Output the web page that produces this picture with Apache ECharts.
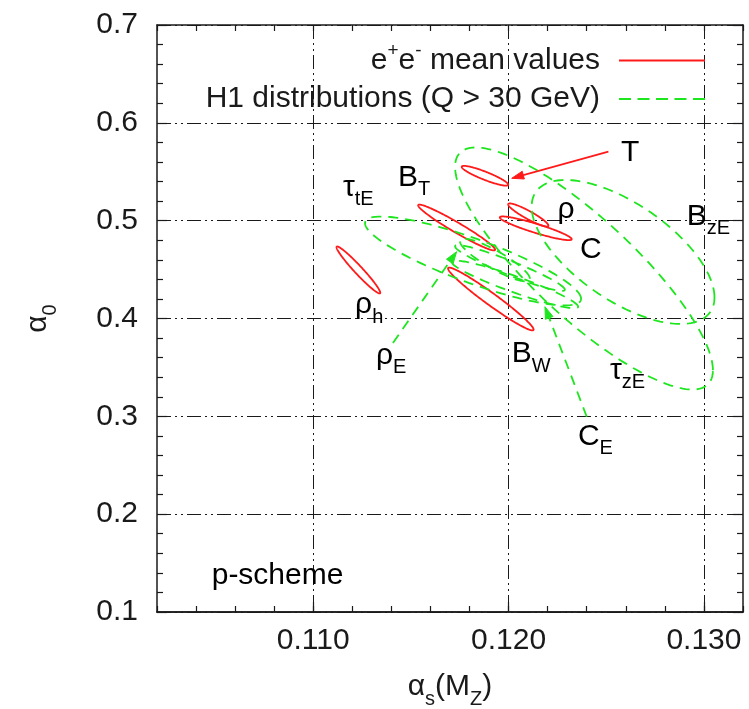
<!DOCTYPE html>
<html>
<head>
<meta charset="utf-8">
<script src="https://cdn.jsdelivr.net/npm/echarts@6/dist/echarts.min.js"></script>
<style>
  html, body { margin: 0; padding: 0; background: #fff; }
  #chart { width: 749px; height: 709px; }
</style>
</head>
<body>
<div id="chart"></div>
<script>
// axes
var X_MIN = 0.102, X_MAX = 0.132;
var Y_MIN = 0.1, Y_MAX = 0.7;
var xMajor = [0.11, 0.12, 0.13];

// e+e- mean values (red): centre, half extents, correlation
// order: T, B_T, B_W, rho, C, rho_h
var eeCx = [0.11879, 0.11734, 0.11909, 0.12101, 0.12139, 0.11231];
var eeCy = [0.5459, 0.4930, 0.4199, 0.5058, 0.4922, 0.4496];
var eeSx = [0.00119, 0.00197, 0.00219, 0.00103, 0.00184, 0.00112];
var eeSy = [0.0101, 0.0234, 0.0321, 0.0118, 0.0121, 0.0240];
var eeRho = [-0.90, -0.968, -0.972, -0.919, -0.917, -0.969];

// H1 distributions (green dashed)
// order: tau_tE, B_zE, tau_zE, rho_E, C_E, B_tE
var h1Cx = [0.11818, 0.12586, 0.12386, 0.12007, 0.12033, 0.1193];
var h1Cy = [0.4588, 0.4680, 0.4511, 0.4516, 0.4348, 0.4598];
var h1Sx = [0.00553, 0.00468, 0.0066, 0.00281, 0.00323, 0.00179];
var h1Sy = [0.0454, 0.0736, 0.1237, 0.0234, 0.0243, 0.0218];
var h1Rho = [-0.85, -0.63, -0.84, -0.944, -0.934, -0.876];

// arrows: T (red), rho_E, C_E (green)
var arrowX0 = [0.12511, 0.11408, 0.12400];
var arrowY0 = [0.5705, 0.3750, 0.2996];
var arrowX1 = [0.12016, 0.11734, 0.12186];
var arrowY1 = [0.5433, 0.4683, 0.4121];
var arrowIsH1 = [false, true, true];

// text labels
var labelMain = ['T', 'B', 'τ', 'ρ', 'ρ', 'C', 'B', 'B', 'τ', 'C', 'ρ', 'p-scheme'];
var labelSub  = ['', 'T', 'tE', 'h', '', '', 'zE', 'W', 'zE', 'E', 'E', ''];
var labelX = [0.12575, 0.11434, 0.11152, 0.11214, 0.12250, 0.12366, 0.12912, 0.12016, 0.12519, 0.12355, 0.11321, 0.1048];
var labelY = [0.5692, 0.5441, 0.5339, 0.4138, 0.5110, 0.4700, 0.5043, 0.3637, 0.3469, 0.2794, 0.3617, 0.1373];

var EE_NAME = 'e+e- mean values';
var H1_NAME = 'H1 distributions (Q > 30 GeV)';
var RED = '#ff1a1a';
var GREEN = '#1ee61e';
var INK = '#1a1a1a';
var FONT = 'Liberation Sans';
var dashDot = [14, 4, 2, 4, 2, 4];
var greenDash = [10, 7];

var rich = {
  m: { fontSize: 30, fontFamily: FONT, color: INK, lineHeight: 30 },
  s: { fontSize: 20, fontFamily: FONT, color: INK, lineHeight: 30, padding: [24, 0, 0, 0] }
};

function zipRows() {
  var cols = arguments, rows = [];
  for (var i = 0; i < cols[0].length; i++) {
    var r = [];
    for (var j = 0; j < cols.length; j++) r.push(cols[j][i]);
    rows.push(r);
  }
  return rows;
}

function ellipseRenderer(color, dash) {
  return function (params, api) {
    var cx = api.value(0), cy = api.value(1), sx = api.value(2), sy = api.value(3), r = api.value(4);
    var q = Math.sqrt(1 - r * r);
    var pts = [];
    for (var k = 0; k < 180; k++) {
      var t = k / 180 * 2 * Math.PI;
      pts.push(api.coord([cx + sx * Math.cos(t), cy + sy * (r * Math.cos(t) + q * Math.sin(t))]));
    }
    return {
      type: 'polygon',
      shape: { points: pts },
      style: { fill: null, stroke: color, lineWidth: 1.8, lineDash: dash }
    };
  };
}

function renderArrow(params, api) {
  var h1 = arrowIsH1[params.dataIndex];
  var color = h1 ? GREEN : RED;
  var p0 = api.coord([api.value(0), api.value(1)]);
  var p1 = api.coord([api.value(2), api.value(3)]);
  var dx = p1[0] - p0[0], dy = p1[1] - p0[1];
  var len = Math.sqrt(dx * dx + dy * dy);
  var ux = dx / len, uy = dy / len;
  var hl = 12, hw = 4;
  var bx = p1[0] - ux * hl, by = p1[1] - uy * hl;
  return {
    type: 'group',
    children: [
      { type: 'line', shape: { x1: p0[0], y1: p0[1], x2: bx, y2: by },
        style: { stroke: color, lineWidth: 1.8, lineDash: h1 ? greenDash : null } },
      { type: 'polygon', shape: { points: [p1, [bx - uy * hw, by + ux * hw], [bx + uy * hw, by - ux * hw]] },
        style: { fill: color, stroke: color, lineWidth: 1 } }
    ]
  };
}

function renderLabel(params, api) {
  var i = params.dataIndex;
  var p = api.coord([api.value(0), api.value(1)]);
  var txt = '{m|' + labelMain[i] + '}' + (labelSub[i] ? '{s|' + labelSub[i] + '}' : '');
  return {
    type: 'text',
    x: p[0], y: p[1],
    style: { text: txt, rich: rich, align: 'left', verticalAlign: 'middle' }
  };
}

var minorX = {
  type: 'value', min: X_MIN, max: X_MAX, interval: 0.002,
  axisLine: { show: true, onZero: false, lineStyle: { color: INK, width: 1.5 } },
  axisTick: { show: true, inside: true, length: 6, lineStyle: { color: INK, width: 1.2 } },
  axisLabel: { show: false },
  splitLine: { show: false }
};

var yBase = {
  type: 'value', min: Y_MIN, max: Y_MAX, interval: 0.1,
  axisLine: { show: true, onZero: false, lineStyle: { color: INK, width: 1.5 } },
  axisTick: { show: true, inside: true, length: 10, lineStyle: { color: INK, width: 1.2 } },
  minorTick: { show: true, splitNumber: 5, length: 6, lineStyle: { color: INK, width: 1.2 } },
  splitLine: { show: false }
};

var chart = echarts.init(document.getElementById('chart'));
chart.setOption({
  backgroundColor: '#fff',
  animation: false,
  grid: [
    { left: 157, right: 6, top: 25, bottom: 97, outerBoundsMode: 'none' },
    { left: 157, right: 6, top: 25, bottom: 97, outerBoundsMode: 'none' }
  ],
  legend: {
    orient: 'vertical', right: 39, top: 36, align: 'right',
    itemWidth: 86, itemHeight: 3, itemGap: 4,
    selectedMode: false,
    textStyle: { color: INK, fontSize: 30, fontFamily: FONT, padding: [0, 14, 0, 0],
      rich: {
        a: { fontSize: 30, fontFamily: FONT, color: INK, lineHeight: 40 },
        p: { fontSize: 19, fontFamily: FONT, color: INK, lineHeight: 40, padding: [0, 0, 20, 0] }
      } },
    formatter: function (name) {
      if (name === EE_NAME) return '{a|e}{p|+}{a|e}{p|-}{a| mean values}';
      return '{a|' + name + '}';
    },
    data: [
      { name: EE_NAME, icon: 'path://M0,0h86v2h-86z' },
      { name: H1_NAME, icon: 'path://M0,0h12v2h-12zM18.5,0h12v2h-12zM37,0h12v2h-12zM55.5,0h12v2h-12zM74,0h12v2h-12z' }
    ]
  },
  xAxis: [
    {
      gridIndex: 0, type: 'value', position: 'bottom', min: X_MIN, max: X_MAX,
      axisLine: { show: true, onZero: false, lineStyle: { color: INK, width: 1.5 } },
      axisTick: { show: true, inside: true, length: 10, customValues: xMajor, lineStyle: { color: INK, width: 1.2 } },
      axisLabel: { customValues: xMajor, margin: 14, fontSize: 30, fontFamily: FONT, color: INK,
        formatter: function (v) { return v.toFixed(3); } },
      splitLine: { show: true, lineStyle: { color: INK, width: 1, type: dashDot } },
      name: '{m|α}{s|s}{m|(M}{s|Z}{m|)}',
      nameLocation: 'middle', nameGap: 60,
      nameTextStyle: { rich: rich }
    },
    Object.assign({ gridIndex: 0, position: 'top' }, minorX),
    Object.assign({ gridIndex: 1, position: 'bottom' }, minorX)
  ],
  yAxis: [
    Object.assign({}, yBase, {
      gridIndex: 0, position: 'left',
      axisLabel: { margin: 19, fontSize: 30, fontFamily: FONT, color: INK, showMinLabel: true, showMaxLabel: true,
        formatter: function (v) { return v.toFixed(1); } },
      splitLine: { show: true, lineStyle: { color: INK, width: 1, type: dashDot } },
      name: '{m|α}{s|0}', nameLocation: 'middle', nameRotate: 90, nameGap: 104,
      nameTextStyle: { rich: rich }
    }),
    Object.assign({}, yBase, { gridIndex: 0, position: 'right', axisLabel: { show: false } }),
    { gridIndex: 1, type: 'value', min: Y_MIN, max: Y_MAX, show: false }
  ],
  series: [
    {
      name: EE_NAME, type: 'custom', xAxisIndex: 0, yAxisIndex: 0,
      itemStyle: { color: RED }, clip: true, silent: true,
      renderItem: ellipseRenderer(RED, null),
      data: zipRows(eeCx, eeCy, eeSx, eeSy, eeRho)
    },
    {
      name: H1_NAME, type: 'custom', xAxisIndex: 0, yAxisIndex: 0,
      itemStyle: { color: GREEN }, clip: true, silent: true,
      renderItem: ellipseRenderer(GREEN, greenDash),
      data: zipRows(h1Cx, h1Cy, h1Sx, h1Sy, h1Rho)
    },
    {
      name: 'arrows', type: 'custom', xAxisIndex: 0, yAxisIndex: 0, silent: true,
      renderItem: renderArrow,
      data: zipRows(arrowX0, arrowY0, arrowX1, arrowY1)
    },
    {
      name: 'labels', type: 'custom', xAxisIndex: 0, yAxisIndex: 0, silent: true,
      renderItem: renderLabel,
      data: zipRows(labelX, labelY)
    }
  ]
});
</script>
</body>
</html>
